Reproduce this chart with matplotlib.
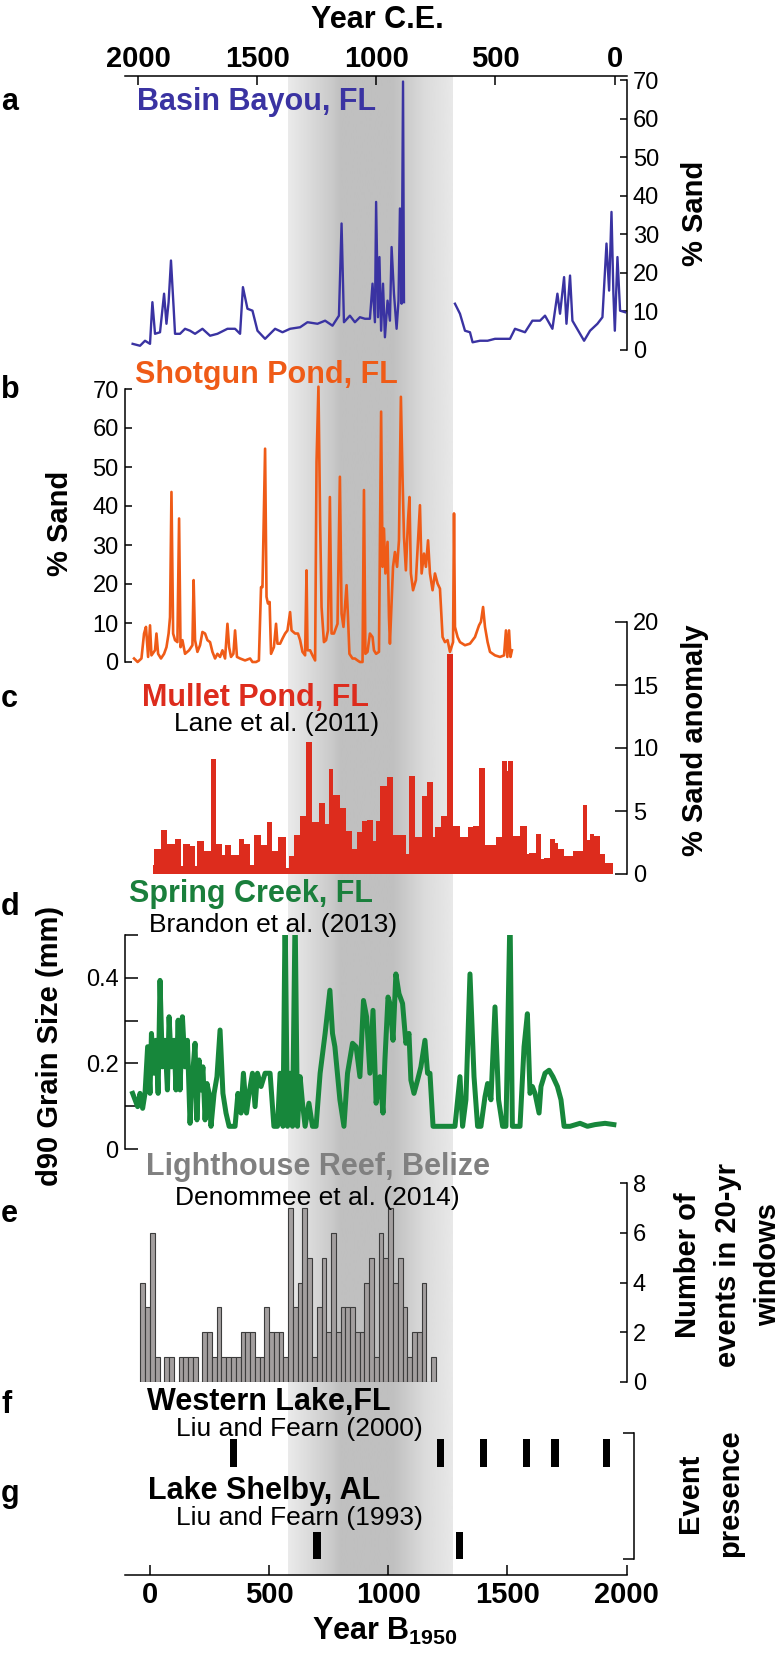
import numpy as np
import matplotlib
matplotlib.use("Agg")
import matplotlib.pyplot as plt

plt.rcParams['font.family'] = ['Liberation Sans', 'DejaVu Sans']
plt.rcParams['mathtext.fontset'] = 'custom'
plt.rcParams['mathtext.rm'] = 'Liberation Sans'
plt.rcParams['mathtext.bf'] = 'Liberation Sans:bold'

# ---- data, x in years B1950 ----
basin_year = [-73, -42, -21, 0, 10, 21, 42, 59, 69, 78,
              88, 99, 105, 126, 147, 168, 189, 220, 252, 283,
              325, 357, 378, 390, 409, 430, 451, 483, 525, 556,
              588, 630, 661, 703, 735, 766, 793, 804, 814, 839,
              860, 881, 902, 923, 934, 944, 949, 957, 963, 970,
              978, 986, 997, 1007, 1014, 1024, 1035, 1043, 1049, 1056,
              1062, 1066, 1170, 1280, 1301, 1322, 1343, 1354, 1385, 1417,
              1448, 1511, 1532, 1574, 1605, 1637, 1658, 1689, 1710, 1721,
              1738, 1748, 1763, 1773, 1805, 1822, 1847, 1878, 1899, 1916,
              1927, 1937, 1945, 1951, 1962, 1973, 1994]
basin_sand = [1.6, 1.1, 2.4, 1.6, 12.4, 4.2, 4.6, 14.6, 6.8, 12.4,
              23.2, 11.1, 4.2, 4.2, 5.5, 5.0, 4.2, 5.5, 3.7, 4.2,
              5.5, 5.5, 4.2, 16.3, 10.7, 10.2, 5.0, 2.9, 5.5, 4.6,
              5.5, 5.9, 7.2, 6.8, 7.6, 6.3, 8.9, 32.8, 7.2, 8.9,
              7.2, 8.5, 8.1, 8.1, 17.2, 7.2, 38.4, 8.5, 24.1, 5.0,
              17.2, 3.3, 12.8, 7.6, 26.7, 14.6, 5.5, 12.8, 36.7, 12.0,
              69.6, 12.4, np.nan, 12.0, 9.4, 5.0, 4.6, 2.0, 2.4, 2.4,
              2.9, 2.9, 5.5, 4.6, 7.6, 7.6, 8.9, 5.5, 14.6, 9.4,
              18.9, 6.8, 19.3, 7.6, 4.2, 2.4, 5.0, 6.8, 8.5, 27.6,
              15.4, 35.8, 14.6, 5.0, 24.1, 10.2, 9.8]

shot_year = [-67, -52, -36, -25, -17, -8, 0, 6, 21, 27,
             34, 46, 59, 69, 78, 84, 90, 97, 105, 115,
             122, 128, 136, 147, 164, 178, 183, 189, 199, 210,
             220, 231, 241, 252, 262, 273, 283, 294, 304, 315,
             325, 332, 340, 350, 357, 365, 378, 399, 420, 430,
             445, 457, 466, 472, 483, 489, 495, 502, 508, 520,
             529, 535, 546, 556, 567, 577, 588, 594, 609, 621,
             630, 640, 651, 657, 661, 672, 682, 693, 699, 707,
             714, 720, 730, 739, 747, 755, 762, 772, 787, 797,
             804, 812, 818, 825, 831, 837, 850, 860, 871, 881,
             892, 898, 904, 913, 923, 934, 940, 949, 961, 970,
             976, 982, 988, 997, 1003, 1007, 1020, 1028, 1037, 1045,
             1053, 1060, 1066, 1074, 1083, 1089, 1095, 1104, 1116, 1133,
             1140, 1150, 1158, 1167, 1175, 1186, 1196, 1207, 1217, 1228,
             1238, 1249, 1259, 1272, 1276, 1280, 1291, 1301, 1322, 1343,
             1364, 1381, 1389, 1398, 1406, 1417, 1427, 1448, 1469, 1486,
             1494, 1500, 1507, 1513, 1519]
shot_sand = [0.9, 0, 0.9, 7.3, 9.0, 1.3, 9.4, 1.7, 3.0, 7.3,
             2.1, 0.9, 2.1, 3.8, 7.3, 11.5, 43.6, 7.3, 5.6, 5.1,
             36.8, 3.8, 5.6, 2.1, 3.0, 4.3, 21.0, 5.6, 2.6, 4.3,
             7.7, 7.3, 5.6, 5.1, 2.6, 0.9, 2.1, 1.3, 3.0, 0.9,
             9.8, 3.8, 1.3, 2.1, 8.1, 1.3, 0.9, 0.4, 0.9, 0,
             0, 0.4, 19.2, 19.2, 54.7, 16.7, 15.0, 15.4, 2.1, 3.8,
             9.8, 4.7, 4.7, 6.0, 7.3, 8.1, 12.8, 8.1, 7.3, 7.3,
             5.6, 2.6, 1.7, 23.5, 3.0, 3.0, 1.7, 0.4, 51.3, 70.6,
             35.9, 14.1, 5.1, 5.6, 8.1, 42.3, 7.3, 7.3, 9.8, 47.5,
             12.4, 9.0, 14.1, 19.7, 11.5, 2.1, 0.9, 0.9, 0.4, 0,
             0, 44.1, 2.1, 2.6, 7.3, 6.4, 3.0, 2.1, 2.6, 64.2,
             24.4, 34.2, 22.7, 30.8, 11.5, 4.7, 24.4, 28.2, 24.4, 31.2,
             68.0, 47.0, 32.1, 23.5, 36.4, 42.3, 22.7, 18.4, 21.0, 40.2,
             22.7, 27.8, 24.4, 31.2, 22.7, 18.4, 22.7, 20.1, 18.8, 6.4,
             5.1, 5.6, 2.6, 5.1, 38.1, 9.0, 6.4, 5.1, 4.3, 4.7,
             6.4, 9.4, 10.3, 14.1, 9.0, 5.1, 2.6, 1.7, 1.3, 1.7,
             8.1, 1.3, 8.1, 1.3, 3.0]

mullet_left = [11, 18, 46, 70, 84, 105, 130, 140, 168, 189,
               199, 227, 255, 277, 304, 315, 339, 375, 396, 420,
               438, 464, 490, 513, 539, 569, 583, 604, 630, 653,
               679, 709, 735, 753, 769, 797, 821, 846, 867, 888,
               912, 937, 949, 965, 993, 1019, 1049, 1073, 1088, 1112,
               1140, 1164, 1189, 1196, 1221, 1245, 1270, 1301, 1336, 1357,
               1382, 1406, 1420, 1452, 1476, 1497, 1504, 1525, 1553, 1581,
               1592, 1620, 1641, 1654, 1679, 1700, 1714, 1738, 1753, 1777,
               1791, 1819, 1833, 1847, 1864, 1889, 1910]
mullet_end = 1942
mullet_anom = [0.7, 2.0, 3.5, 2.4, 2.4, 2.8, 0.6, 2.4, 2.2, 0.6,
               2.6, 1.8, 9.1, 2.4, 1.5, 2.3, 1.5, 2.8, 2.4, 0.7,
               3.1, 2.3, 4.1, 1.8, 2.9, 0.5, 1.4, 3.1, 4.6, 10.5,
               4.1, 5.6, 4.0, 8.3, 6.3, 5.2, 3.4, 2.0, 3.3, 4.2,
               4.3, 2.6, 4.2, 7.0, 7.7, 3.1, 3.1, 1.6, 7.8, 2.95,
               6.2, 7.3, 2.9, 3.7, 4.6, 17.5, 3.8, 2.95, 3.7, 3.8,
               8.4, 2.3, 2.3, 2.95, 9.0, 8.2, 9.0, 3.0, 3.8, 1.6,
               1.7, 3.2, 1.2, 1.25, 2.8, 2.5, 2.0, 1.4, 1.4, 1.8,
               1.8, 5.5, 2.7, 3.2, 3.0, 1.6, 0.9]

spring_year = [-73, -52, -42, -31, -21, -10, 0, 6, 17, 25,
               34, 42, 52, 63, 73, 80, 90, 101, 109, 118,
               126, 136, 147, 157, 168, 178, 189, 197, 206, 214,
               222, 231, 239, 248, 256, 269, 281, 294, 306, 319,
               332, 346, 357, 369, 382, 392, 405, 416, 430, 441,
               451, 466, 483, 504, 520, 535, 546, 558, 567, 577,
               588, 598, 609, 619, 630, 640, 651, 667, 682, 697,
               714, 735, 755, 766, 776, 797, 814, 829, 850, 865,
               881, 896, 909, 923, 936, 949, 965, 978, 986, 999,
               1007, 1020, 1032, 1045, 1060, 1074, 1087, 1095, 1108, 1123,
               1137, 1154, 1165, 1175, 1188, 1200, 1217, 1249, 1280, 1301,
               1312, 1326, 1343, 1360, 1375, 1389, 1406, 1417, 1431, 1448,
               1463, 1480, 1494, 1511, 1521, 1532, 1553, 1570, 1584, 1595,
               1605, 1616, 1633, 1641, 1658, 1675, 1691, 1710, 1725, 1738,
               1763, 1805, 1836, 1868, 1910, 1947]
spring_d90 = [0.130, 0.099, 0.130, 0.095, 0.130, 0.239, 0.130, 0.270, 0.177, 0.254,
              0.130, 0.394, 0.192, 0.254, 0.138, 0.309, 0.192, 0.254, 0.138, 0.301,
              0.138, 0.309, 0.192, 0.254, 0.060, 0.169, 0.247, 0.068, 0.208, 0.138,
              0.192, 0.068, 0.153, 0.130, 0.053, 0.130, 0.169, 0.278, 0.130, 0.084,
              0.053, 0.053, 0.053, 0.130, 0.084, 0.177, 0.084, 0.130, 0.177, 0.099,
              0.177, 0.146, 0.177, 0.177, 0.053, 0.053, 0.177, 0.053, 0.55, 0.053,
              0.177, 0.053, 0.55, 0.053, 0.169, 0.107, 0.053, 0.107, 0.053, 0.053,
              0.177, 0.270, 0.371, 0.270, 0.239, 0.115, 0.053, 0.177, 0.247, 0.239,
              0.169, 0.347, 0.309, 0.177, 0.324, 0.107, 0.169, 0.084, 0.208, 0.355,
              0.340, 0.254, 0.409, 0.363, 0.340, 0.247, 0.270, 0.161, 0.130, 0.161,
              0.192, 0.254, 0.177, 0.177, 0.053, 0.053, 0.053, 0.053, 0.053, 0.169,
              0.053, 0.115, 0.409, 0.169, 0.053, 0.053, 0.122, 0.153, 0.115, 0.332,
              0.115, 0.053, 0.053, 0.55, 0.053, 0.053, 0.053, 0.239, 0.316, 0.130,
              0.146, 0.130, 0.084, 0.146, 0.177, 0.184, 0.169, 0.146, 0.115, 0.053,
              0.053, 0.060, 0.053, 0.057, 0.060, 0.057]

# Lighthouse Reef: events per 20-yr window, first window starts at -40
light_first = -40
light_window = 20
light_count = [4, 3, 6, 1, 0, 1, 1, 0, 1, 1,
               1, 1, 0, 2, 2, 1, 3, 1, 1, 1,
               1, 2, 2, 2, 1, 1, 3, 2, 2, 2,
               1, 7, 3, 4, 7, 5, 1, 3, 5, 2,
               6, 2, 3, 3, 3, 2, 2, 4, 5, 1,
               6, 5, 7, 4, 5, 3, 1, 2, 2, 4,
               0, 1]

western_events = [350, 1220, 1400, 1580, 1700, 1915]
shelby_events = [700, 1300]

# shaded interval and its grey ramp
band_stops = [578, 764, 800, 1015, 1154, 1270]
band_levels = [0.92, 0.79, 0.75, 0.75, 0.86, 0.91]

bp_ticks = [0, 500, 1000, 1500, 2000]
ce_ticks = [2000, 1500, 1000, 500, 0]

# ---- layout helpers (pixels of the 784x1653 figure) ----
W, H = 784, 1653
X_LEFT = -105
X_RIGHT = 2000


def box(left, top, right, bottom):
    return [left / W, 1 - bottom / H, (right - left) / W, (bottom - top) / H]


def put(fig, x, y, s, **kw):
    kw.setdefault('va', 'baseline')
    fig.text(x / W, 1 - y / H, s, **kw)


def panel(fig, top, bottom, side, right=626.5, xmax=X_RIGHT, ticklen=5):
    ax = fig.add_axes(box(125, top, right, bottom))
    ax.set_facecolor('none')
    ax.set_xlim(X_LEFT, xmax)
    ax.set_xticks([])
    for s in ('top', 'bottom', 'left', 'right'):
        ax.spines[s].set_visible(s == side)
    ax.spines[side].set_linewidth(1.1)
    ax.yaxis.set_ticks_position(side)
    ax.tick_params(axis='y', direction='in', length=ticklen, width=1.1,
                   labelsize=17, pad=4.5)
    return ax


def plot_background(fig):
    ax = fig.add_axes(box(125, 76, 626.5, 1575))
    xs = np.linspace(band_stops[0], band_stops[-1], 400)
    shade = np.interp(xs, band_stops, band_levels)
    ax.imshow(np.vstack([shade, shade]), cmap='gray', vmin=0, vmax=1,
              extent=[band_stops[0], band_stops[-1], 0, 1], aspect='auto',
              interpolation='bilinear')
    ax.set_xlim(X_LEFT, X_RIGHT)
    ax.set_ylim(0, 1)
    for s in ('top', 'left', 'right'):
        ax.spines[s].set_visible(False)
    ax.spines['bottom'].set_linewidth(1.1)
    ax.set_yticks([])
    ax.set_xticks(bp_ticks, labels=[str(t) for t in bp_ticks],
                  fontweight='bold', fontsize=21)
    ax.tick_params(axis='x', direction='in', length=7, width=1.1, pad=4)

    # calendar years on top
    top = ax.secondary_xaxis('top', functions=(lambda x: 1950 - x, lambda x: 1950 - x))
    top.set_xticks(ce_ticks, labels=[str(t) for t in ce_ticks],
                   fontweight='bold', fontsize=21)
    top.tick_params(direction='in', length=6.5, width=1.1, pad=2)
    top.spines['top'].set_linewidth(1.1)


def plot_panels(fig):
    # a  Basin Bayou
    ax = panel(fig, 80, 350, 'right')
    ax.plot(basin_year, basin_sand, color='#3a33a2', lw=1.7)
    ax.set_ylim(0, 70)
    ax.set_yticks(range(0, 71, 10))

    # b  Shotgun Pond
    ax = panel(fig, 389, 662, 'left')
    ax.plot(shot_year, shot_sand, color='#ef5b17', lw=1.9, clip_on=False)
    ax.set_ylim(0, 70)
    ax.set_yticks(range(0, 71, 10))

    # c  Mullet Pond
    ax = panel(fig, 622, 874, 'right', ticklen=8.5)
    ax.stairs(mullet_anom, mullet_left + [mullet_end], fill=True, color='#dd2c1d')
    ax.set_ylim(0, 20)
    ax.set_yticks(range(0, 21, 5))

    # d  Spring Creek
    ax = panel(fig, 935, 1149, 'left', ticklen=9)
    ax.plot(spring_year, spring_d90, color='#17873b', lw=3.6)
    ax.set_ylim(0, 0.5)
    ax.set_yticks([0, 0.1, 0.2, 0.3, 0.4, 0.5],
                  labels=['0', '', '0.2', '', '0.4', ''])

    # e  Lighthouse Reef
    ax = panel(fig, 1183, 1382, 'right')
    starts = [light_first + light_window * i for i in range(len(light_count))]
    ax.bar(starts, light_count, width=light_window, align='edge',
           color='#a39f9f', edgecolor='#3c3c3c', linewidth=0.8)
    ax.set_ylim(0, 8)
    ax.set_yticks(range(0, 9, 2))

    # f, g  event presence
    ax = panel(fig, 1433, 1559, 'right', right=634, xmax=2031, ticklen=8)
    ax.set_ylim(0, 1)
    ax.set_yticks([0, 1], labels=['', ''])
    ax.bar(western_events, 0.22, bottom=0.73, width=31, color='black')
    ax.bar(shelby_events, 0.215, bottom=0.0, width=31, color='black')


def plot_text(fig):
    bold = dict(fontweight='bold', fontsize=22)
    put(fig, 377, 28, 'Year C.E.', ha='center', **bold)
    put(fig, 385, 1640, r'Year B$_{\mathbf{1950}}$', ha='center', **bold)

    # panel letters
    for letter, y in zip('abcdefg', [110, 398, 707, 915, 1222, 1413, 1502]):
        put(fig, 1, y, letter, **bold)

    put(fig, 137, 110, 'Basin Bayou, FL', color='#3a33a2', **bold)
    put(fig, 135, 383, 'Shotgun Pond, FL', color='#ef5b17', **bold)
    put(fig, 142, 706, 'Mullet Pond, FL', color='#dd2c1d', **bold)
    put(fig, 174, 731, 'Lane et al. (2011)', fontsize=19)
    put(fig, 129, 902, 'Spring Creek, FL', color='#1a7f3c', **bold)
    put(fig, 149, 932, 'Brandon et al. (2013)', fontsize=19)
    put(fig, 146, 1175, 'Lighthouse Reef, Belize', color='#808080', **bold)
    put(fig, 175, 1205, 'Denommee et al. (2014)', fontsize=19)
    put(fig, 147, 1410, 'Western Lake,FL', **bold)
    put(fig, 176, 1436, 'Liu and Fearn (2000)', fontsize=19)
    put(fig, 148, 1499, 'Lake Shelby, AL', **bold)
    put(fig, 176, 1525, 'Liu and Fearn (1993)', fontsize=19)

    # axis titles
    side = dict(fontweight='bold', fontsize=21, rotation=90, ha='center', va='center')
    put(fig, 695, 213, '% Sand', **side)
    put(fig, 60, 523, '% Sand', **side)
    put(fig, 695, 740, '% Sand anomaly', **side)
    put(fig, 50, 1046, 'd90 Grain Size (mm)', **side)
    put(fig, 728, 1265, 'Number of\nevents in 20-yr\nwindows', linespacing=1.55,
        multialignment='center', **side)
    put(fig, 710, 1493, 'Event\npresence', linespacing=1.55,
        multialignment='center', **side)


def main():
    fig = plt.figure(figsize=(W / 100, H / 100), dpi=100)
    plot_background(fig)
    plot_panels(fig)
    plot_text(fig)
    fig.savefig('out.png', dpi=100)


if __name__ == "__main__":
    main()
